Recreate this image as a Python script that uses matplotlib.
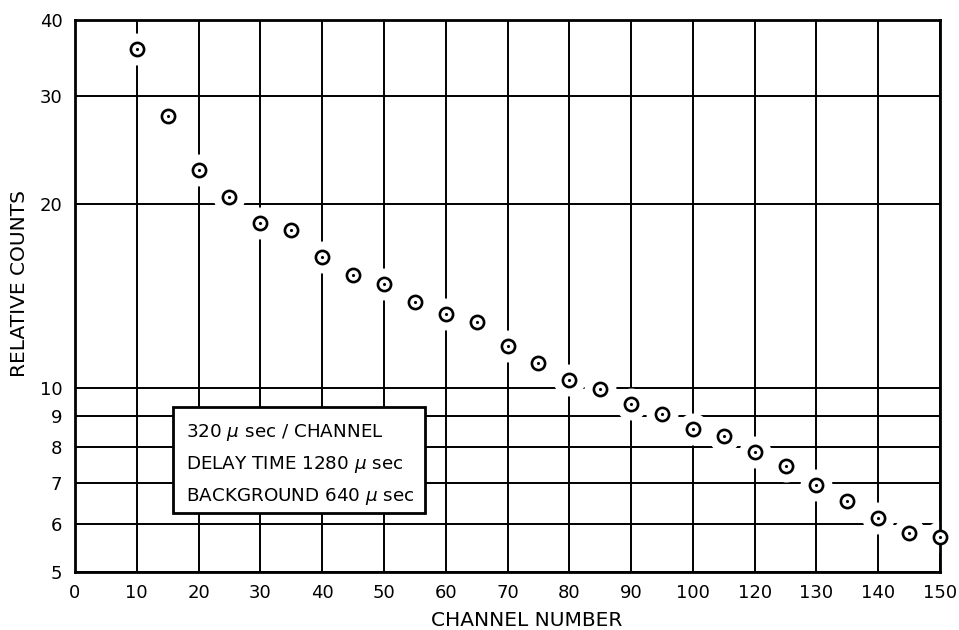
import matplotlib
matplotlib.use('Agg')
import matplotlib.pyplot as plt
from matplotlib.patches import Rectangle
from matplotlib.ticker import FixedLocator, NullLocator

plt.rcParams.update({'font.family': 'DejaVu Sans', 'mathtext.fontset': 'dejavusans'})

# channel positions on the plotted scale (grid every 10)
channel = [10, 15, 20, 25, 30, 35, 40, 45, 50, 55, 60, 65, 70, 75, 80,
           85, 90, 95, 100, 105, 110, 115, 120, 125, 130, 135, 140]
counts = [35.9, 27.9, 22.7, 20.5, 18.6, 18.1, 16.4, 15.3, 14.8, 13.8, 13.2,
          12.8, 11.7, 11.0, 10.3, 9.95, 9.4, 9.07, 8.57, 8.35, 7.86, 7.45,
          6.94, 6.53, 6.13, 5.79, 5.71]

x_ticks = [0, 10, 20, 30, 40, 50, 60, 70, 80, 90, 100, 110, 120, 130, 140]
x_ticklabels = ['0', '10', '20', '30', '40', '50', '60', '70', '80', '90',
                '100', '120', '130', '140', '150']
y_ticks = [5, 6, 7, 8, 9, 10, 20, 30, 40]

box_lines = [r'320 $\mu$ sec / CHANNEL',
             r'DELAY TIME 1280 $\mu$ sec',
             r'BACKGROUND 640 $\mu$ sec']

fig = plt.figure(figsize=(9.59, 6.3), dpi=100)
ax = fig.add_axes([0.0782, 0.0921, 0.9020, 0.8762])

ax.set_yscale('log')
ax.set_xlim(0, 140)
ax.set_ylim(5, 40)

ax.xaxis.set_major_locator(FixedLocator(x_ticks))
ax.set_xticklabels(x_ticklabels)
ax.yaxis.set_major_locator(FixedLocator(y_ticks))
ax.yaxis.set_minor_locator(NullLocator())
ax.set_yticklabels([str(v) for v in y_ticks])
ax.tick_params(axis='both', length=0, labelsize=13, colors='black')
ax.tick_params(axis='x', pad=9)
ax.tick_params(axis='y', pad=9)

ax.grid(True, which='major', color='black', linewidth=1.4, zorder=1)
ax.set_axisbelow(True)
for s in ax.spines.values():
    s.set_linewidth(2)
    s.set_zorder(5)

# white halo breaks the grid lines around each point
ax.plot(channel, counts, 'o', markersize=22, color='white', zorder=2, clip_on=False)
ax.plot(channel, counts, 'o', markersize=9.5, markerfacecolor='white',
        markeredgecolor='black', markeredgewidth=1.9, zorder=6, clip_on=False)
ax.plot(channel, counts, '.', markersize=2.5, color='black', zorder=7, clip_on=False)

ax.set_xlabel('CHANNEL NUMBER', fontsize=14.5, va='top')
ax.xaxis.set_label_coords(0.522, -0.071)
ax.set_ylabel('RELATIVE COUNTS', fontsize=14.5, va='center')
ax.yaxis.set_label_coords(-0.064, 0.522)

# annotation box
ax.add_patch(Rectangle((0.113, 0.107), 0.292, 0.192, transform=ax.transAxes,
                       facecolor='white', edgecolor='black', linewidth=2, zorder=4))
for i, line in enumerate(box_lines):
    ax.text(0.128, 0.252 - i * 0.058, line, transform=ax.transAxes,
            fontsize=13.2, va='center', ha='left', zorder=5)

plt.savefig('out.png', dpi=100)
